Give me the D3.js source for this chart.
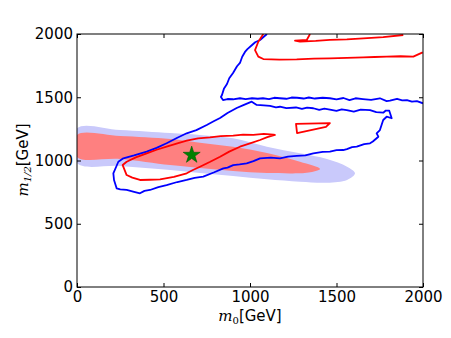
<!DOCTYPE html>
<html>
<head>
<meta charset="utf-8">
<script src="https://cdn.jsdelivr.net/npm/d3@7"></script>
<style>
  body { margin: 0; background: #fff; }
  text { font-family: "DejaVu Sans", sans-serif; }
</style>
</head>
<body>
<div id="chart"></div>
<script>
// tick labels
var xTicks = [0, 500, 1000, 1500, 2000];
var yTicks = [0, 500, 1000, 1500, 2000];

// filled bands, [m0, m12]
var blueBand = [
  [0, 1254], [249, 1241], [538, 1217], [711, 1202], [902, 1175], [1098, 1109],
  [1289, 1057], [1445, 1012], [1561, 951], [1607, 899],
  [1561, 846], [1445, 824], [1289, 832], [1098, 851], [902, 877], [711, 901],
  [538, 925], [249, 957], [0, 980]
];
var redBand = [
  [0, 1202], [249, 1194], [538, 1170], [711, 1141], [902, 1109], [1098, 1059],
  [1289, 990], [1405, 933], [1340, 905], [1289, 899], [1098, 901], [902, 917],
  [711, 941], [538, 964], [249, 1012], [0, 1028]
];

// blue contour, open upper part
var blueUpper = [
  [1098, 2000], [1058, 1953], [1030, 1935], [1012, 1913], [985, 1880], [971, 1858],
  [955, 1820], [942, 1771], [925, 1745], [902, 1692], [880, 1650], [867, 1605],
  [850, 1570], [838, 1518], [832, 1502], [844, 1478], [870, 1486], [902, 1484],
  [942, 1492], [975, 1486], [1012, 1492], [1045, 1488], [1075, 1492], [1110, 1486],
  [1140, 1496], [1173, 1492], [1210, 1488], [1240, 1498], [1272, 1496], [1310, 1490],
  [1340, 1498], [1375, 1490], [1420, 1496], [1462, 1492], [1500, 1484], [1540, 1494],
  [1575, 1478], [1610, 1492], [1653, 1486], [1700, 1480], [1751, 1492], [1790, 1470],
  [1809, 1473], [1850, 1488], [1880, 1476], [1907, 1478], [1936, 1465], [1965, 1470],
  [2000, 1452]
];
// blue contour, closed loop
var blueLoop = [
  [1010, 1465], [1039, 1439], [1080, 1436], [1116, 1431], [1150, 1420], [1173, 1425],
  [1210, 1414], [1266, 1419], [1300, 1408], [1330, 1418], [1366, 1413], [1400, 1400],
  [1430, 1410], [1462, 1403], [1500, 1392], [1530, 1404], [1559, 1399], [1600, 1386],
  [1640, 1402], [1694, 1399], [1730, 1382], [1770, 1378], [1785, 1395], [1805, 1394],
  [1819, 1334], [1790, 1346], [1770, 1320], [1751, 1241], [1732, 1215], [1742, 1188],
  [1710, 1150], [1694, 1136], [1660, 1130], [1617, 1109], [1590, 1105], [1560, 1090],
  [1539, 1083], [1500, 1082], [1462, 1070], [1420, 1068], [1366, 1057], [1320, 1040],
  [1270, 1036], [1220, 1030], [1173, 1017], [1120, 1022], [1058, 1017], [1020, 995],
  [981, 978], [940, 970], [903, 964], [870, 944], [846, 938], [790, 905], [730, 872],
  [680, 862], [634, 846], [580, 830], [518, 806], [470, 790], [422, 767], [390, 760],
  [364, 741], [330, 752], [287, 767], [250, 772], [229, 780], [214, 846], [210, 899],
  [239, 990], [268, 1017], [330, 1040], [403, 1070], [460, 1100], [518, 1136],
  [580, 1180], [634, 1215], [690, 1240], [750, 1281], [790, 1310], [827, 1336],
  [870, 1375], [923, 1415], [965, 1440]
];

// red contours
var redLoop = [
  [1144, 1202], [1100, 1185], [1058, 1162], [1000, 1135], [942, 1109], [880, 1070],
  [827, 1030], [770, 990], [711, 951], [670, 925], [634, 899], [560, 870], [480, 851],
  [420, 848], [364, 846], [320, 865], [287, 885], [264, 964], [287, 990], [340, 1025],
  [403, 1057], [460, 1085], [518, 1109], [580, 1135], [634, 1157], [700, 1175],
  [769, 1183], [830, 1192], [903, 1196], [960, 1204], [1019, 1202], [1080, 1210],
  [1135, 1205]
];
var redTriangle = [[1266, 1289], [1462, 1296], [1439, 1265], [1272, 1217]];
var redTop = [
  [1077, 2000], [1048, 1939], [1029, 1873], [1048, 1821], [1077, 1802], [1170, 1798],
  [1270, 1800], [1370, 1806], [1462, 1808], [1560, 1812], [1655, 1816], [1720, 1818],
  [1790, 1821], [1870, 1824], [1944, 1821], [1998, 1855]
];
var redTopSmall = [
  [1347, 2000], [1328, 1953], [1260, 1947], [1289, 1939], [1380, 1945], [1462, 1953],
  [1560, 1958], [1655, 1966], [1770, 1976], [1886, 1992]
];

// best fit point
var bestFit = [663, 1043];

var width = 451;
var height = 338;
var margin = { top: 34, right: 28, bottom: 51, left: 77 };

var svg = d3.select("#chart").append("svg")
  .attr("width", width)
  .attr("height", height);

var xScale = d3.scaleLinear([0, 2000], [margin.left, width - margin.right]);
var yScale = d3.scaleLinear([0, 2000], [height - margin.bottom, margin.top]);

svg.append("clipPath")
  .attr("id", "plotclip")
  .append("rect")
  .attr("x", margin.left)
  .attr("y", margin.top)
  .attr("width", width - margin.left - margin.right)
  .attr("height", height - margin.top - margin.bottom);

var plot = svg.append("g").attr("clip-path", "url(#plotclip)");

var bandPath = d3.line()
  .x(d => xScale(d[0]))
  .y(d => yScale(d[1]))
  .curve(d3.curveCatmullRomClosed);

plot.append("path")
  .attr("d", bandPath(blueBand))
  .attr("fill", "#c9c9fb");

plot.append("path")
  .attr("d", bandPath(redBand))
  .attr("fill", "#fe8080");

var openLine = d3.line()
  .x(d => xScale(d[0]))
  .y(d => yScale(d[1]));
var closedLine = d3.line()
  .x(d => xScale(d[0]))
  .y(d => yScale(d[1]))
  .curve(d3.curveLinearClosed);

function contour(pts, closed, color) {
  plot.append("path")
    .attr("d", closed ? closedLine(pts) : openLine(pts))
    .attr("fill", "none")
    .attr("stroke", color)
    .attr("stroke-width", 1.8)
    .attr("stroke-linejoin", "round");
}

contour(blueUpper, false, "#0000ff");
contour(blueLoop, true, "#0000ff");
contour(redLoop, true, "#ff0000");
contour(redTriangle, true, "#ff0000");
contour(redTop, false, "#ff0000");
contour(redTopSmall, false, "#ff0000");

plot.append("path")
  .attr("d", d3.symbol(d3.symbolStar, 90)())
  .attr("transform", "translate(" + xScale(bestFit[0]) + "," + yScale(bestFit[1]) + ")")
  .attr("fill", "#008000")
  .attr("stroke", "#005a00")
  .attr("stroke-width", 0.6);

// frame and inward ticks on all four sides
svg.append("rect")
  .attr("x", margin.left)
  .attr("y", margin.top)
  .attr("width", width - margin.left - margin.right)
  .attr("height", height - margin.top - margin.bottom)
  .attr("fill", "none")
  .attr("stroke", "#000")
  .attr("stroke-width", 1);

var fmt = d3.format("d");

svg.append("g")
  .attr("transform", "translate(0," + (height - margin.bottom) + ")")
  .call(d3.axisBottom(xScale).tickValues(xTicks).tickFormat(fmt).tickSizeInner(-4).tickSizeOuter(0).tickPadding(4))
  .call(g => g.select(".domain").remove());
svg.append("g")
  .attr("transform", "translate(0," + margin.top + ")")
  .call(d3.axisTop(xScale).tickValues(xTicks).tickSizeInner(-4).tickSizeOuter(0).tickFormat(""))
  .call(g => g.select(".domain").remove());
svg.append("g")
  .attr("transform", "translate(" + margin.left + ",0)")
  .call(d3.axisLeft(yScale).tickValues(yTicks).tickFormat(fmt).tickSizeInner(-4).tickSizeOuter(0).tickPadding(4))
  .call(g => g.select(".domain").remove());
svg.append("g")
  .attr("transform", "translate(" + (width - margin.right) + ",0)")
  .call(d3.axisRight(yScale).tickValues(yTicks).tickSizeInner(-4).tickSizeOuter(0).tickFormat(""))
  .call(g => g.select(".domain").remove());

svg.selectAll(".tick text")
  .attr("font-family", "DejaVu Sans, sans-serif")
  .attr("font-size", 15)
  .attr("fill", "#000");
svg.selectAll(".tick line").attr("stroke", "#000");

// axis titles
var xt = svg.append("text")
  .attr("x", 250)
  .attr("y", 321)
  .attr("text-anchor", "middle")
  .attr("font-size", 15);
xt.append("tspan").attr("font-family", "DejaVu Serif, serif").attr("font-style", "italic").text("m");
xt.append("tspan").attr("font-family", "DejaVu Serif, serif").attr("font-size", 10).attr("dy", 3).text("0");
xt.append("tspan").attr("dy", -3).text("[GeV]");

var yt = svg.append("text")
  .attr("transform", "translate(28,160) rotate(-90)")
  .attr("text-anchor", "middle")
  .attr("font-size", 15);
yt.append("tspan").attr("font-family", "DejaVu Serif, serif").attr("font-style", "italic").text("m");
yt.append("tspan").attr("font-family", "DejaVu Serif, serif").attr("font-style", "italic").attr("font-size", 10).attr("dy", 3).text("1/2");
yt.append("tspan").attr("dy", -3).text("[GeV]");
</script>
</body>
</html>
